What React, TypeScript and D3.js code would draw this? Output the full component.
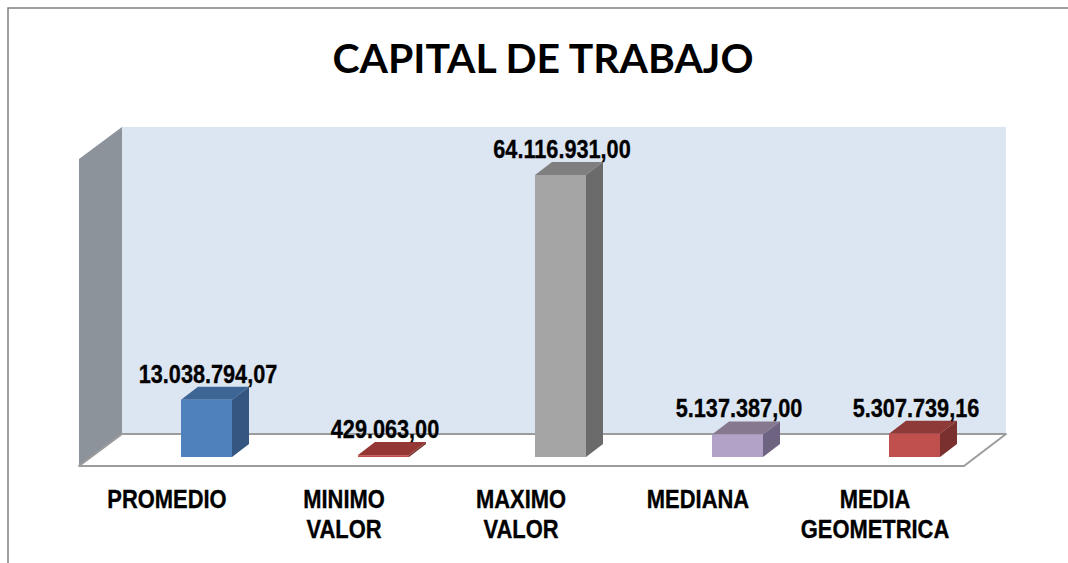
import React from "react";
import * as d3 from "d3";

const categories = ["PROMEDIO", "MINIMO VALOR", "MAXIMO VALOR", "MEDIANA", "MEDIA GEOMETRICA"];
const axisLines = [["PROMEDIO"], ["MINIMO", "VALOR"], ["MAXIMO", "VALOR"], ["MEDIANA"], ["MEDIA", "GEOMETRICA"]];
const values = [13038794.07, 429063, 64116931, 5137387, 5307739.16];
const valueLabels = ["13.038.794,07", "429.063,00", "64.116.931,00", "5.137.387,00", "5.307.739,16"];
const frontColors = ["#4F81BD", "#C0504D", "#A5A5A5", "#B3A2C7", "#C0504D"];
const topColors = ["#3D6595", "#953735", "#7F7F7F", "#85788F", "#8E3A38"];
const sideColors = ["#345680", "#7A302E", "#6B6B6B", "#6E6380", "#7A302E"];

const x = d3.scalePoint<string>().domain(categories).range([206.5, 914.5]);
const y = d3.scaleLinear().domain([0, 64116931]).range([457, 175]);
const BAR = 51;
const DX = 17;
const DY = 13;
const FONT = "'Liberation Sans', Arial, sans-serif";

export default function App() {
  return (
    <svg width={1068} height={563} style={{ position: "absolute", left: 0, top: 0, background: "#fff" }}>
      <path d="M8,563V8H1068" fill="none" stroke="#7F7F7F" strokeWidth={1.5} />
      <text x={543} y={73} textAnchor="middle" fontFamily="Lato, 'Open Sans', sans-serif" fontWeight={700} fontSize={41} fill="#000" textLength={421} lengthAdjust="spacingAndGlyphs">
        CAPITAL DE TRABAJO
      </text>
      <rect x={122} y={127} width={884} height={307} fill="#DCE6F2" />
      <polygon points="79,159 122,127 122,434 79,466" fill="#8C939B" />
      <polygon points="79,466 964,466 1006,434 122,434" fill="#fff" stroke="#9C9C9C" strokeWidth={2} strokeLinejoin="round" />
      {categories.map((c, i) => {
        const cx = x(c)!;
        const l = cx - BAR / 2;
        const r = cx + BAR / 2;
        const t = y(values[i]);
        const b = y(0);
        return (
          <g key={c}>
            <polygon points={`${l},${t} ${l + DX},${t - DY} ${r + DX},${t - DY} ${r},${t}`} fill={topColors[i]} />
            <polygon points={`${r},${t} ${r + DX},${t - DY} ${r + DX},${b - DY} ${r},${b}`} fill={sideColors[i]} />
            <rect x={l} y={t} width={BAR} height={b - t} fill={frontColors[i]} />
            <text transform={`translate(${cx + 1.5},${t - DY - 4}) scale(0.85,1)`} textAnchor="middle" fontFamily={FONT} fontWeight={700} fontSize={25.5} fill="#000" stroke="#000" strokeWidth={0.35}>
              {valueLabels[i]}
            </text>
            {axisLines[i].map((line, j) => (
              <text key={line} transform={`translate(${cx - 39.5},${508 + j * 30}) scale(0.86,1)`} textAnchor="middle" fontFamily={FONT} fontWeight={700} fontSize={25.5} fill="#000" stroke="#000" strokeWidth={0.35}>
                {line}
              </text>
            ))}
          </g>
        );
      })}
    </svg>
  );
}
